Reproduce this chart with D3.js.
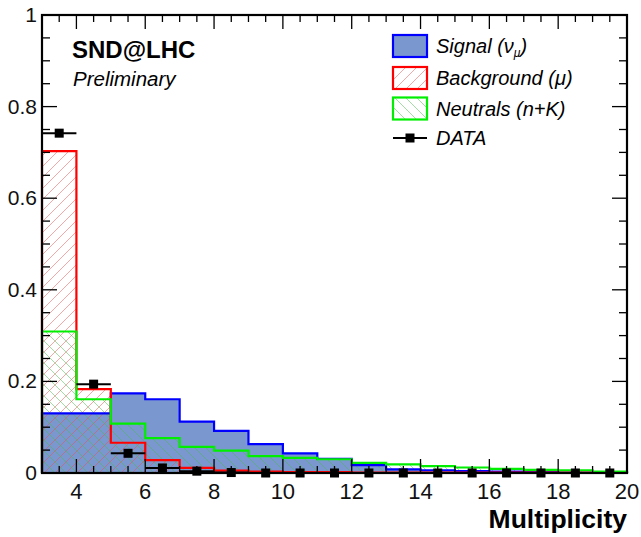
<!DOCTYPE html>
<html>
<head>
<meta charset="utf-8">
<script src="https://cdn.jsdelivr.net/npm/d3@7"></script>
<style>
  body { margin: 0; background: #fff; }
  svg { display: block; font-family: "Liberation Sans", Arial, Helvetica, sans-serif; }
</style>
</head>
<body>
<div id="chart"></div>
<script>
// bin lower edges (width 1), multiplicity 3..20
const binEdges = [3, 4, 5, 6, 7, 8, 9, 10, 11, 12, 13, 14, 15, 16, 17, 18, 19];
const signal = [0.130, 0.130, 0.174, 0.161, 0.112, 0.092, 0.063, 0.043, 0.031, 0.017, 0.008, 0.006, 0.004, 0.003, 0.002, 0.001, 0.001];
const background = [0.703, 0.183, 0.066, 0.028, 0.011, 0.005, 0.003, 0.002, 0.002, 0.001, 0.001, 0.001, 0.001, 0.001, 0.001, 0.001, 0.001];
const neutrals = [0.309, 0.161, 0.108, 0.076, 0.057, 0.049, 0.037, 0.033, 0.030, 0.022, 0.019, 0.015, 0.012, 0.009, 0.007, 0.006, 0.003];
const dataPts = [0.742, 0.194, 0.043, 0.011, 0.004, 0.001, 0, 0, 0, 0, 0, 0, 0, 0, 0, 0, 0];
const xTickLabels = [4, 6, 8, 10, 12, 14, 16, 18, 20];
const yTickLabels = [0, 0.2, 0.4, 0.6, 0.8, 1];

const W = 641, H = 537;
const plotL = 42, plotR = 627, plotT = 15, plotB = 473;

const svg = d3.select("#chart").append("svg")
  .attr("width", W).attr("height", H);

const x = d3.scaleLinear().domain([3, 20]).range([plotL, plotR]);
const y = d3.scaleLinear().domain([0, 1]).range([plotB, plotT]);

// hatch patterns
const defs = svg.append("defs");
defs.append("pattern")
  .attr("id", "hatchRed").attr("patternUnits", "userSpaceOnUse")
  .attr("width", 11).attr("height", 11)
  .append("path").attr("d", "M-1,1 l2,-2 M0,11 l11,-11 M10,12 l2,-2")
  .attr("stroke", "rgba(235,80,80,0.5)").attr("stroke-width", 1);
defs.append("pattern")
  .attr("id", "hatchGreen").attr("patternUnits", "userSpaceOnUse")
  .attr("width", 11).attr("height", 11)
  .append("path").attr("d", "M-1,10 l2,2 M0,0 l11,11 M10,-1 l2,2")
  .attr("stroke", "rgba(70,190,70,0.5)").attr("stroke-width", 1);

// turn bin values into step points
function steps(vals) {
  const pts = [[3, 0]];
  vals.forEach((v, i) => pts.push([binEdges[i], v]));
  pts.push([20, vals[vals.length - 1]]);
  pts.push([20, 0]);
  return pts;
}
const area = d3.area().x(d => x(d[0])).y0(y(0)).y1(d => y(d[1])).curve(d3.curveStepAfter);
const line = d3.line().x(d => x(d[0])).y(d => y(d[1])).curve(d3.curveStepAfter);

const hists = [
  { vals: signal, fill: "#7b97cf", stroke: "#0000ff" },
  { vals: background, fill: "url(#hatchRed)", stroke: "#ff0000" },
  { vals: neutrals, fill: "url(#hatchGreen)", stroke: "#00ee00" }
];
hists.forEach(h => {
  svg.append("path").attr("d", area(steps(h.vals))).attr("fill", h.fill);
});
hists.forEach(h => {
  svg.append("path").attr("d", line(steps(h.vals)))
    .attr("fill", "none").attr("stroke", h.stroke).attr("stroke-width", 2.2);
});

// data points with x error bars
const pts = svg.append("g");
dataPts.forEach((v, i) => {
  const cx = x(binEdges[i] + 0.5), cy = y(v);
  pts.append("line").attr("x1", x(binEdges[i])).attr("x2", x(binEdges[i] + 1))
    .attr("y1", cy).attr("y2", cy).attr("stroke", "#000").attr("stroke-width", 2);
  pts.append("rect").attr("x", cx - 4.5).attr("y", cy - 4.5)
    .attr("width", 9).attr("height", 9).attr("fill", "#000");
});

// frame and ticks
const axes = svg.append("g").attr("stroke", "#000").attr("stroke-width", 1.3);
d3.range(3, 20.01, 0.5).forEach(t => {
  const len = (t % 2 === 0) ? 14 : 7;
  axes.append("line").attr("x1", x(t)).attr("x2", x(t)).attr("y1", plotB).attr("y2", plotB - len);
  axes.append("line").attr("x1", x(t)).attr("x2", x(t)).attr("y1", plotT).attr("y2", plotT + len);
});
d3.range(0, 1.001, 0.05).forEach(t => {
  const major = Math.abs(t * 5 - Math.round(t * 5)) < 1e-6;
  const len = major ? 15 : 8;
  axes.append("line").attr("x1", plotL).attr("x2", plotL + len).attr("y1", y(t)).attr("y2", y(t));
  axes.append("line").attr("x1", plotR).attr("x2", plotR - len).attr("y1", y(t)).attr("y2", y(t));
});
svg.append("rect").attr("x", plotL).attr("y", plotT)
  .attr("width", plotR - plotL).attr("height", plotB - plotT)
  .attr("fill", "none").attr("stroke", "#000").attr("stroke-width", 2.2);

// tick labels
svg.selectAll(".xl").data(xTickLabels).enter().append("text")
  .attr("x", d => x(d)).attr("y", 499)
  .attr("text-anchor", "middle").attr("font-size", 22).attr("fill", "#111")
  .text(d => d);
svg.selectAll(".yl").data(yTickLabels).enter().append("text")
  .attr("x", 37).attr("y", d => y(d) + 7)
  .attr("text-anchor", "end").attr("font-size", 21).attr("fill", "#111")
  .text(d => d);

svg.append("text").attr("x", 627).attr("y", 528)
  .attr("text-anchor", "end").attr("font-size", 26.5).attr("font-weight", "bold")
  .text("Multiplicity");

svg.append("text").attr("x", 72).attr("y", 58)
  .attr("font-size", 24).attr("font-weight", "bold").text("SND@LHC");
svg.append("text").attr("x", 73).attr("y", 86)
  .attr("font-size", 20.5).attr("font-style", "italic").text("Preliminary");

// legend
const leg = svg.append("g");
const legRows = [
  { y: 46, fill: "#7b97cf", stroke: "#0000ff", label: "Signal (ν", sub: "μ", tail: ")" },
  { y: 78, fill: "url(#hatchRed)", stroke: "#ff0000", label: "Background (μ)" },
  { y: 108.5, fill: "url(#hatchGreen)", stroke: "#00ee00", label: "Neutrals (n+K)" }
];
legRows.forEach(r => {
  leg.append("rect").attr("x", 393).attr("y", r.y - 11).attr("width", 34).attr("height", 22)
    .attr("fill", r.fill).attr("stroke", r.stroke).attr("stroke-width", 2.2);
  const t = leg.append("text").attr("x", 436).attr("y", r.y + 7)
    .attr("font-size", 20).attr("font-style", "italic").text(r.label);
  if (r.sub) {
    t.append("tspan").attr("font-size", 12).attr("dy", 4).text(r.sub);
    t.append("tspan").attr("dy", -4).text(r.tail);
  }
});
leg.append("line").attr("x1", 393).attr("x2", 427).attr("y1", 138).attr("y2", 138)
  .attr("stroke", "#000").attr("stroke-width", 2);
leg.append("rect").attr("x", 405.5).attr("y", 133.5).attr("width", 9).attr("height", 9).attr("fill", "#000");
leg.append("text").attr("x", 436).attr("y", 145)
  .attr("font-size", 20).attr("font-style", "italic").text("DATA");
</script>
</body>
</html>
